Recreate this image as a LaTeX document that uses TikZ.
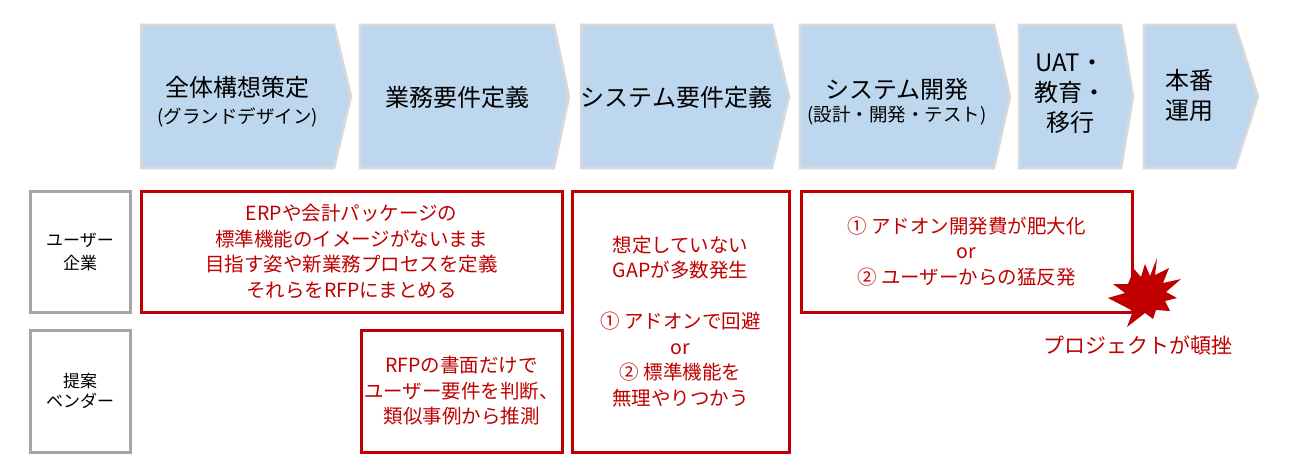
\documentclass[tikz,border=0pt]{standalone}
\usepackage{fontspec}
\setmainfont{Noto Sans CJK JP}
\usepackage{xcolor}
\usepackage{tikz}
\definecolor{phasebg}{HTML}{BDD7EE}
\definecolor{phaseline}{HTML}{D9D9D9}
\definecolor{sideline}{HTML}{A6A6A6}
\definecolor{alert}{HTML}{C00000}
\definecolor{ink}{HTML}{000000}
\newcommand{\phsub}{\fontsize{18.5}{22}\selectfont}
\tikzset{
  phase/.style={fill=phasebg, draw=phaseline, line width=2.5pt, line join=miter},
  phtxt/.style={text=ink, align=center, font=\fontsize{24}{30}\selectfont},
  side/.style={draw=sideline, line width=3pt, align=center, text=ink, font=\fontsize{17}{23}\selectfont},
  issue/.style={draw=alert, line width=3pt, align=center, text=alert, inner sep=1pt, font=\fontsize{19.5}{25.5}\selectfont},
  labr/.style={text=alert, font=\fontsize{21}{25}\selectfont},
}
\begin{document}
\begin{tikzpicture}[x=1pt,y=-1pt]
  \fill[white] (0,0) rectangle (1300,476);
  \useasboundingbox (0,0) rectangle (1300,476);

  \foreach \xl/\xr/\xt in {141/334/351,360/554/569,581/772/789,800/994/1010,1019/1121/1133,1144/1235/1258}{
    \draw[phase] (\xl,25) -- (\xr,25) -- (\xt,96.5) -- (\xr,168) -- (\xl,168) -- cycle;
  }

  \node[phtxt] (grand) at (237.5,102) {全体構想策定\\[-3pt]{\phsub (グランドデザイン)}};
  \node[phtxt] (bizreq) at (457,97) {業務要件定義};
  \node[phtxt] (sysreq) at (676.5,97) {システム要件定義};
  \node[phtxt] (dev) at (897,102) {システム開発\\[-7pt]{\phsub (設計・開発・テスト)}};
  \node[phtxt] (uat) at (1070,94) {UAT・\\教育・\\移行};
  \node[phtxt] (golive) at (1189.5,95) {本番\\運用};

  \node[side, minimum width=100pt, minimum height=121pt] (user) at (80,251.5) {ユーザー\\企業};
  \node[side, minimum width=100pt, minimum height=122pt] (vendor) at (80,391) {提案\\[-3pt]ベンダー};

  \node[issue, minimum width=421pt, minimum height=121pt] (erp) at (351.5,251.5)
    {ERPや会計パッケージの\\標準機能のイメージがないまま\\目指す姿や新業務プロセスを定義\\それらをRFPにまとめる};
  \node[issue, minimum width=201pt, minimum height=122pt] (rfp) at (461.5,391)
    {RFPの書面だけで\\ユーザー要件を判断、\\類似事例から推測};
  \node[issue, minimum width=217pt, minimum height=261pt] (gap) at (680.5,321.5)
    {想定していない\\GAPが多数発生\\[25.5pt]① アドオンで回避\\or\\② 標準機能を\\無理やりつかう};
  \node[issue, minimum width=331pt, minimum height=121pt] (cost) at (966.5,251.5)
    {① アドオン開発費が肥大化\\or\\② ユーザーからの猛反発};

  \coordinate (burst) at (1145,295);
  \fill[alert, shift={(burst)}] (12,-37) -- (10,-20) -- (24,-27) -- (18,-12) -- (36,-16) -- (21,-3)
    -- (32,3) -- (20,6) -- (25,16) -- (11,15) -- (8,24) -- (0,18) -- (-18,32) -- (-12,16)
    -- (-37,3) -- (-20,-2) -- (-32,-11) -- (-17,-11) -- (-11,-26) -- (-4,-18) -- (0,-31) -- (5,-19) -- cycle;
  \node[labr] (stall) at (1138,345) {プロジェクトが頓挫};
\end{tikzpicture}
\end{document}
